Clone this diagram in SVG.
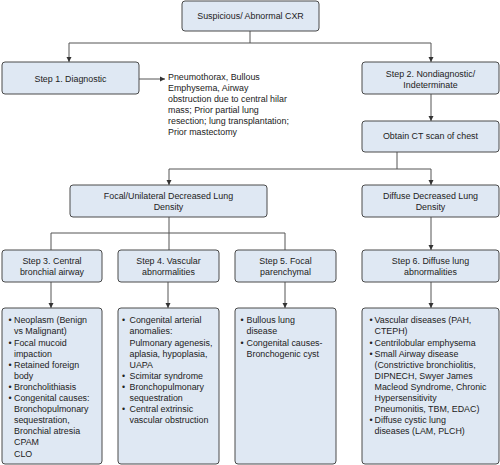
<svg xmlns="http://www.w3.org/2000/svg" width="500" height="465" viewBox="0 0 500 465">
<style>
.box{fill:#dfe8f3;stroke:#4a4a4a;stroke-width:1}
.t{font-family:"Liberation Sans",Arial,sans-serif;font-size:8.9px;fill:#222}
.c{text-anchor:middle}
.ln{fill:none;stroke:#555;stroke-width:1}
</style>
<defs>
<marker id="ar" markerUnits="userSpaceOnUse" markerWidth="6" markerHeight="6" refX="5" refY="3" orient="auto">
<path d="M0,0.5 L5,3 L0,5.5 Z" fill="#333"/>
</marker>
</defs>
<rect width="500" height="465" fill="#fff"/>
<g id="connectors">
<path class="ln" d="M250,31 V43 M69,43 H431"/>
<path class="ln" d="M69,43 V62" marker-end="url(#ar)"/>
<path class="ln" d="M431,43 V62" marker-end="url(#ar)"/>
<path class="ln" d="M139,79 H165" marker-end="url(#ar)"/>
<path class="ln" d="M431,94 V121" marker-end="url(#ar)"/>
<path class="ln" d="M397,152 V169 M169,169 H431"/>
<path class="ln" d="M169,169 V185" marker-end="url(#ar)"/>
<path class="ln" d="M431,169 V185" marker-end="url(#ar)"/>
<path class="ln" d="M169,217 V250 M51,233 H285 M51,233 V250 M285,233 V250"/>
<path class="ln" d="M431,217 V250" marker-end="url(#ar)"/>
<path class="ln" d="M51,282 V308" marker-end="url(#ar)"/>
<path class="ln" d="M168,282 V308" marker-end="url(#ar)"/>
<path class="ln" d="M285,282 V308" marker-end="url(#ar)"/>
<path class="ln" d="M431,282 V308" marker-end="url(#ar)"/>
</g>
<g id="n-top">
<rect class="box" x="182" y="1" width="137" height="30" rx="3"/>
<text class="t c" x="250.5" y="19">Suspicious/ Abnormal CXR</text>
</g>
<g id="n-step1">
<rect class="box" x="2" y="62" width="137" height="32" rx="3"/>
<text class="t c" x="70.5" y="82">Step 1. Diagnostic</text>
</g>
<g id="n-diag-list">
<text class="t" x="168" y="79.5">Pneumothorax, Bullous</text>
<text class="t" x="168" y="90.6">Emphysema, Airway</text>
<text class="t" x="168" y="101.7">obstruction due to central hilar</text>
<text class="t" x="168" y="112.8">mass; Prior partial lung</text>
<text class="t" x="168" y="123.9">resection; lung transplantation;</text>
<text class="t" x="168" y="135">Prior mastectomy</text>
</g>
<g id="n-step2">
<rect class="box" x="362" y="62" width="137" height="32" rx="3"/>
<text class="t c" x="430.5" y="77">Step 2. Nondiagnostic/</text>
<text class="t c" x="430.5" y="88">Indeterminate</text>
</g>
<g id="n-ct">
<rect class="box" x="362" y="121" width="137" height="31" rx="3"/>
<text class="t c" x="430.5" y="139">Obtain CT scan of chest</text>
</g>
<g id="n-focal">
<rect class="box" x="70" y="185" width="197" height="32" rx="3"/>
<text class="t c" x="168.5" y="199">Focal/Unilateral Decreased Lung</text>
<text class="t c" x="168.5" y="210">Density</text>
</g>
<g id="n-diffuse">
<rect class="box" x="362" y="185" width="137" height="32" rx="3"/>
<text class="t c" x="430.5" y="199">Diffuse Decreased Lung</text>
<text class="t c" x="430.5" y="210">Density</text>
</g>
<g id="n-step3">
<rect class="box" x="2" y="250" width="100" height="32" rx="3"/>
<text class="t c" x="52" y="264">Step 3. Central</text>
<text class="t c" x="52" y="275">bronchial airway</text>
</g>
<g id="n-step4">
<rect class="box" x="118" y="250" width="101" height="32" rx="3"/>
<text class="t c" x="168.5" y="264">Step 4. Vascular</text>
<text class="t c" x="168.5" y="275">abnormalities</text>
</g>
<g id="n-step5">
<rect class="box" x="235" y="250" width="101" height="32" rx="3"/>
<text class="t c" x="285.5" y="264">Step 5. Focal</text>
<text class="t c" x="285.5" y="275">parenchymal</text>
</g>
<g id="n-step6">
<rect class="box" x="362" y="250" width="137" height="32" rx="3"/>
<text class="t c" x="430.5" y="264">Step 6. Diffuse lung</text>
<text class="t c" x="430.5" y="275">abnormalities</text>
</g>
<g id="n-list3">
<rect class="box" x="2" y="308" width="100" height="156" rx="3"/>
<text class="t" x="8.5" y="323.3">•</text>
<text class="t" x="8.5" y="345.5">•</text>
<text class="t" x="8.5" y="367.7">•</text>
<text class="t" x="8.5" y="389.9">•</text>
<text class="t" x="8.5" y="401">•</text>
<text class="t" x="14" y="323.3">Neoplasm (Benign</text>
<text class="t" x="14" y="334.4">vs Malignant)</text>
<text class="t" x="14" y="345.5">Focal mucoid</text>
<text class="t" x="14" y="356.6">impaction</text>
<text class="t" x="14" y="367.7">Retained foreign</text>
<text class="t" x="14" y="378.8">body</text>
<text class="t" x="14" y="389.9">Broncholithiasis</text>
<text class="t" x="14" y="401">Congenital causes:</text>
<text class="t" x="14" y="412.1">Bronchopulmonary</text>
<text class="t" x="14" y="423.2">sequestration,</text>
<text class="t" x="14" y="434.3">Bronchial atresia</text>
<text class="t" x="14" y="445.4">CPAM</text>
<text class="t" x="14" y="456.5">CLO</text>
</g>
<g id="n-list4">
<rect class="box" x="118" y="308" width="101" height="156" rx="3"/>
<text class="t" x="122" y="323.3">•</text>
<text class="t" x="122" y="378.8">•</text>
<text class="t" x="122" y="389.9">•</text>
<text class="t" x="122" y="412.1">•</text>
<text class="t" x="129.5" y="323.3">Congenital arterial</text>
<text class="t" x="129.5" y="334.4">anomalies:</text>
<text class="t" x="129.5" y="345.5">Pulmonary agenesis,</text>
<text class="t" x="129.5" y="356.6">aplasia, hypoplasia,</text>
<text class="t" x="129.5" y="367.7">UAPA</text>
<text class="t" x="129.5" y="378.8">Scimitar syndrome</text>
<text class="t" x="129.5" y="389.9">Bronchopulmonary</text>
<text class="t" x="129.5" y="401">sequestration</text>
<text class="t" x="129.5" y="412.1">Central extrinsic</text>
<text class="t" x="129.5" y="423.2">vascular obstruction</text>
</g>
<g id="n-list5">
<rect class="box" x="235" y="308" width="101" height="156" rx="3"/>
<text class="t" x="240.5" y="323.3">•</text>
<text class="t" x="240.5" y="345.5">•</text>
<text class="t" x="246.5" y="323.3">Bullous lung</text>
<text class="t" x="246.5" y="334.4">disease</text>
<text class="t" x="246.5" y="345.5">Congenital causes-</text>
<text class="t" x="246.5" y="356.6">Bronchogenic cyst</text>
</g>
<g id="n-list6">
<rect class="box" x="362" y="308" width="137" height="156" rx="3"/>
<text class="t" x="369.5" y="323.3">•</text>
<text class="t" x="369.5" y="345.5">•</text>
<text class="t" x="369.5" y="356.6">•</text>
<text class="t" x="369.5" y="423.2">•</text>
<text class="t" x="374.5" y="323.3">Vascular diseases (PAH,</text>
<text class="t" x="374.5" y="334.4">CTEPH)</text>
<text class="t" x="374.5" y="345.5">Centrilobular emphysema</text>
<text class="t" x="374.5" y="356.6">Small Airway disease</text>
<text class="t" x="374.5" y="367.7">(Constrictive bronchiolitis,</text>
<text class="t" x="374.5" y="378.8">DIPNECH, Swyer James</text>
<text class="t" x="374.5" y="389.9">Macleod Syndrome, Chronic</text>
<text class="t" x="374.5" y="401">Hypersensitivity</text>
<text class="t" x="374.5" y="412.1">Pneumonitis, TBM, EDAC)</text>
<text class="t" x="374.5" y="423.2">Diffuse cystic lung</text>
<text class="t" x="374.5" y="434.3">diseases (LAM, PLCH)</text>
</g>
</svg>
